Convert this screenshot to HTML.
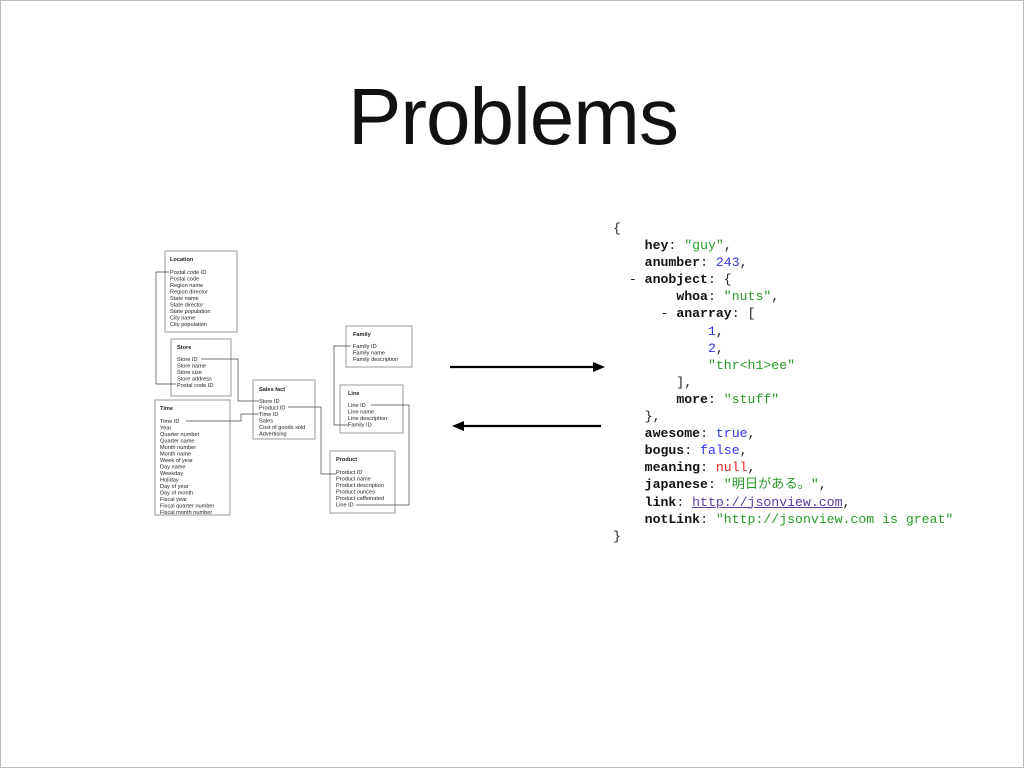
<!DOCTYPE html>
<html><head><meta charset="utf-8"><style>
html,body{margin:0;padding:0;background:#fff}
.slide{position:relative;width:1024px;height:768px;overflow:hidden;box-sizing:border-box;border:1px solid #bbb;background:#fff}
.title{position:absolute;left:0;width:1024px;top:70px;text-align:center;font-family:"Liberation Sans",sans-serif;font-size:80px;color:#111;letter-spacing:-1px}
.json{position:absolute;left:612px;top:219px;font-family:"Liberation Mono","Noto Sans CJK JP",monospace;font-size:13.2px;line-height:17.1px;white-space:pre;color:#222}
.k{font-weight:bold;color:#111}.s{color:#2a9a2a}.n{color:#3333ee}.nu{color:#ee2222}.l{color:#5a3aa0;text-decoration:underline}
</style></head><body><div class="slide">
<div class="title">Problems</div>
<svg width="1024" height="768" style="position:absolute;left:0;top:0" font-family="Liberation Sans,sans-serif" font-size="5.6">
<g fill="#fff" stroke="#999" stroke-width="1">
<rect x="164" y="250" width="72" height="81"/>
<rect x="170" y="338" width="60" height="57"/>
<rect x="154" y="399" width="75" height="115"/>
<rect x="252" y="379" width="62" height="59"/>
<rect x="345" y="325" width="66" height="41"/>
<rect x="339" y="384" width="63" height="48"/>
<rect x="329" y="450" width="65" height="62"/>
</g>
<g fill="none" stroke="#444" stroke-width="0.7">
<polyline points="168,271 155,271 155,383 175,383"/>
<polyline points="200,358 237,358 237,400 258,400"/>
<polyline points="185,420 240,420 240,413 258,413"/>
<polyline points="287,406 320,406 320,473 335,473"/>
<polyline points="350,345 333,345 333,424 347,424"/>
<polyline points="370,404 408,404 408,504 355,504"/>
</g>
<g fill="#222">
<text x="169" y="260" font-weight="bold">Location</text>
<text x="169" y="273">Postal code ID</text><text x="169" y="279.5">Postal code</text><text x="169" y="286">Region name</text><text x="169" y="292.5">Region director</text><text x="169" y="299">State name</text><text x="169" y="305.5">State director</text><text x="169" y="312">State population</text><text x="169" y="318.5">City name</text><text x="169" y="325">City population</text>
<text x="176" y="348" font-weight="bold">Store</text>
<text x="176" y="360">Store ID</text><text x="176" y="366.5">Store name</text><text x="176" y="373">Store size</text><text x="176" y="379.5">Store address</text><text x="176" y="386">Postal code ID</text>
<text x="159" y="409" font-weight="bold">Time</text>
<text x="159" y="422">Time ID</text><text x="159" y="428.5">Year</text><text x="159" y="435">Quarter number</text><text x="159" y="441.5">Quarter name</text><text x="159" y="448">Month number</text><text x="159" y="454.5">Month name</text><text x="159" y="461">Week of year</text><text x="159" y="467.5">Day name</text><text x="159" y="474">Weekday</text><text x="159" y="480.5">Holiday</text><text x="159" y="487">Day of year</text><text x="159" y="493.5">Day of month</text><text x="159" y="500">Fiscal year</text><text x="159" y="506.5">Fiscal quarter number</text><text x="159" y="513">Fiscal month number</text>
<text x="258" y="390" font-weight="bold">Sales fact</text>
<text x="258" y="402">Store ID</text><text x="258" y="408.5">Product ID</text><text x="258" y="415">Time ID</text><text x="258" y="421.5">Sales</text><text x="258" y="428">Cost of goods sold</text><text x="258" y="434.5">Advertising</text>
<text x="352" y="335" font-weight="bold">Family</text>
<text x="352" y="347">Family ID</text><text x="352" y="353.5">Family name</text><text x="352" y="360">Family description</text>
<text x="347" y="394" font-weight="bold">Line</text>
<text x="347" y="406">Line ID</text><text x="347" y="412.5">Line name</text><text x="347" y="419">Line description</text><text x="347" y="425.5">Family ID</text>
<text x="335" y="460" font-weight="bold">Product</text>
<text x="335" y="473">Product ID</text><text x="335" y="479.5">Product name</text><text x="335" y="486">Product description</text><text x="335" y="492.5">Product ounces</text><text x="335" y="499">Product caffeinated</text><text x="335" y="505.5">Line ID</text>
</g>
<g stroke="#000" stroke-width="2.2"><line x1="449" y1="366" x2="594" y2="366"/><line x1="461" y1="425" x2="600" y2="425"/></g>
<polygon points="592,361 604,366 592,371" fill="#000"/>
<polygon points="463,420 451,425 463,430" fill="#000"/>
</svg>
<div class="json">{
    <span class="k">hey</span>: <span class="s">"guy"</span>,
    <span class="k">anumber</span>: <span class="n">243</span>,
  - <span class="k">anobject</span>: {
        <span class="k">whoa</span>: <span class="s">"nuts"</span>,
      - <span class="k">anarray</span>: [
            <span class="n">1</span>,
            <span class="n">2</span>,
            <span class="s">"thr&lt;h1&gt;ee"</span>
        ],
        <span class="k">more</span>: <span class="s">"stuff"</span>
    },
    <span class="k">awesome</span>: <span class="n">true</span>,
    <span class="k">bogus</span>: <span class="n">false</span>,
    <span class="k">meaning</span>: <span class="nu">null</span>,
    <span class="k">japanese</span>: <span class="s">"明日がある。"</span>,
    <span class="k">link</span>: <span class="l">http://jsonview.com</span>,
    <span class="k">notLink</span>: <span class="s">"http://jsonview.com is great"</span>
}</div>
</div></body></html>
